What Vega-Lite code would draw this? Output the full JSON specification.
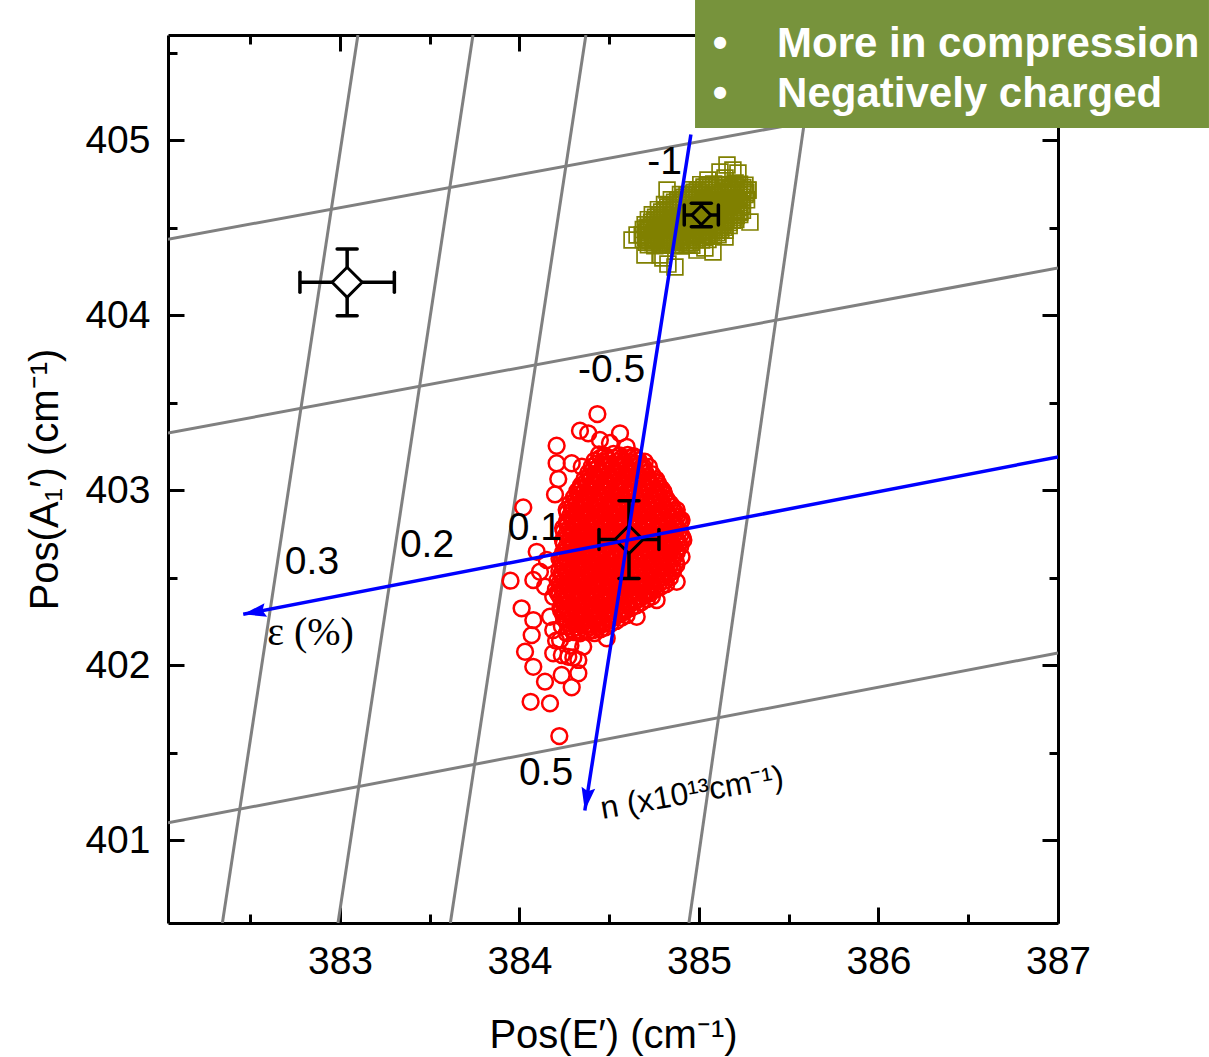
{
"$schema":"https://vega.github.io/schema/vega-lite/v6.json",
"width":890,"height":888,
"autosize":{"type":"none"},
"padding":{"left":168,"top":35,"right":151,"bottom":134},
"background":"white",
"config":{"view":{"stroke":null},"axis":{"grid":false,"tickColor":"black","tickWidth":3,"domainColor":"black","domainWidth":3,"labelColor":"black","titleColor":"black","labelFont":"Liberation Sans","titleFont":"Liberation Sans","labelFontSize":39,"titleFontSize":40,"titleFontWeight":"normal","labelFlush":false,"labelOverlap":false}},
"datasets":{
"grid":[{"g":"s1","x":383.100,"y":405.6},{"g":"s1","x":382.345,"y":400.526},{"g":"s2","x":383.741,"y":405.6},{"g":"s2","x":382.989,"y":400.526},{"g":"s3","x":384.370,"y":405.6},{"g":"s3","x":383.615,"y":400.526},{"g":"s4","x":385.657,"y":405.6},{"g":"s4","x":384.944,"y":400.526},{"g":"n1","x":382.042,"y":404.433},{"g":"n1","x":387,"y":405.367},{"g":"n2","x":382.042,"y":403.326},{"g":"n2","x":387,"y":404.269},{"g":"n3","x":382.042,"y":401.098},{"g":"n3","x":387,"y":402.069}],
"arrows":[{"a":"eps","x":387.011,"y":403.191,"x2":382.461,"y2":402.290},{"a":"n","x":384.955,"y":405.032,"x2":384.364,"y2":401.169}],
"labels":[{"t":"-1","x":384.808,"y":404.874},{"t":"-0.5","x":384.513,"y":403.683},{"t":"0.1","x":384.085,"y":402.783},{"t":"0.2","x":383.485,"y":402.686},{"t":"0.3","x":382.844,"y":402.591},{"t":"0.5","x":384.148,"y":401.383}],
"means":[{"g":"ref","x":383.04,"y":404.187,"xlo":382.777,"xhi":383.303,"ylo":403.996,"yhi":404.377},{"g":"red","x":384.61,"y":402.717,"xlo":384.443,"xhi":384.777,"ylo":402.495,"yhi":402.939},{"g":"olive","x":385.013,"y":404.571,"xlo":384.918,"xhi":385.108,"ylo":404.505,"yhi":404.638}],
"red":[
{"x":384.443,"y":403.203},{"x":384.477,"y":403.196},{"x":384.524,"y":403.206},{"x":384.559,"y":403.198},{"x":384.603,"y":403.2},{"x":384.636,"y":403.194},
{"x":384.418,"y":403.168},{"x":384.463,"y":403.161},{"x":384.497,"y":403.171},{"x":384.541,"y":403.163},{"x":384.582,"y":403.165},{"x":384.617,"y":403.159},{"x":384.664,"y":403.169},{"x":384.698,"y":403.162},
{"x":384.402,"y":403.133},{"x":384.437,"y":403.126},{"x":384.484,"y":403.136},{"x":384.519,"y":403.128},{"x":384.561,"y":403.13},{"x":384.598,"y":403.124},{"x":384.643,"y":403.134},{"x":384.678,"y":403.127},{"x":384.722,"y":403.132},
{"x":384.383,"y":403.098},{"x":384.418,"y":403.091},{"x":384.462,"y":403.101},{"x":384.497,"y":403.093},{"x":384.543,"y":403.095},{"x":384.577,"y":403.089},{"x":384.624,"y":403.099},{"x":384.658,"y":403.092},{"x":384.703,"y":403.097},{"x":384.738,"y":403.09},
{"x":384.362,"y":403.063},{"x":384.397,"y":403.056},{"x":384.443,"y":403.066},{"x":384.478,"y":403.058},{"x":384.522,"y":403.06},{"x":384.557,"y":403.054},{"x":384.604,"y":403.064},{"x":384.638,"y":403.057},{"x":384.683,"y":403.062},{"x":384.717,"y":403.055},{"x":384.762,"y":403.061},
{"x":384.343,"y":403.028},{"x":384.377,"y":403.021},{"x":384.423,"y":403.031},{"x":384.458,"y":403.023},{"x":384.502,"y":403.025},{"x":384.537,"y":403.019},{"x":384.584,"y":403.029},{"x":384.618,"y":403.022},{"x":384.663,"y":403.027},{"x":384.697,"y":403.02},{"x":384.742,"y":403.026},{"x":384.778,"y":403.022},
{"x":384.322,"y":402.993},{"x":384.357,"y":402.986},{"x":384.403,"y":402.996},{"x":384.438,"y":402.988},{"x":384.482,"y":402.99},{"x":384.517,"y":402.984},{"x":384.564,"y":402.994},{"x":384.598,"y":402.987},{"x":384.643,"y":402.992},{"x":384.677,"y":402.985},{"x":384.722,"y":402.991},{"x":384.758,"y":402.987},{"x":384.801,"y":402.993},
{"x":384.303,"y":402.958},{"x":384.337,"y":402.951},{"x":384.383,"y":402.961},{"x":384.418,"y":402.953},{"x":384.462,"y":402.955},{"x":384.497,"y":402.949},{"x":384.544,"y":402.959},{"x":384.578,"y":402.952},{"x":384.623,"y":402.957},{"x":384.657,"y":402.95},{"x":384.702,"y":402.956},{"x":384.738,"y":402.952},{"x":384.781,"y":402.958},{"x":384.818,"y":402.951},
{"x":384.282,"y":402.923},{"x":384.317,"y":402.916},{"x":384.363,"y":402.926},{"x":384.398,"y":402.918},{"x":384.442,"y":402.92},{"x":384.477,"y":402.914},{"x":384.524,"y":402.924},{"x":384.558,"y":402.917},{"x":384.603,"y":402.922},{"x":384.637,"y":402.915},{"x":384.682,"y":402.921},{"x":384.718,"y":402.917},{"x":384.761,"y":402.923},{"x":384.798,"y":402.916},{"x":384.841,"y":402.921},
{"x":384.263,"y":402.888},{"x":384.297,"y":402.881},{"x":384.343,"y":402.891},{"x":384.378,"y":402.883},{"x":384.422,"y":402.885},{"x":384.457,"y":402.879},{"x":384.504,"y":402.889},{"x":384.538,"y":402.882},{"x":384.583,"y":402.887},{"x":384.617,"y":402.88},{"x":384.662,"y":402.886},{"x":384.698,"y":402.882},{"x":384.741,"y":402.888},{"x":384.778,"y":402.881},{"x":384.821,"y":402.886},{"x":384.858,"y":402.883},
{"x":384.282,"y":402.853},{"x":384.317,"y":402.846},{"x":384.363,"y":402.856},{"x":384.398,"y":402.848},{"x":384.442,"y":402.85},{"x":384.477,"y":402.844},{"x":384.524,"y":402.854},{"x":384.558,"y":402.847},{"x":384.603,"y":402.852},{"x":384.637,"y":402.845},{"x":384.682,"y":402.851},{"x":384.718,"y":402.847},{"x":384.761,"y":402.853},{"x":384.798,"y":402.846},{"x":384.841,"y":402.851},{"x":384.878,"y":402.848},
{"x":384.263,"y":402.818},{"x":384.297,"y":402.811},{"x":384.343,"y":402.821},{"x":384.378,"y":402.813},{"x":384.422,"y":402.815},{"x":384.457,"y":402.809},{"x":384.504,"y":402.819},{"x":384.538,"y":402.812},{"x":384.583,"y":402.817},{"x":384.617,"y":402.81},{"x":384.662,"y":402.816},{"x":384.698,"y":402.812},{"x":384.741,"y":402.818},{"x":384.778,"y":402.811},{"x":384.821,"y":402.816},{"x":384.858,"y":402.813},{"x":384.897,"y":402.817},
{"x":384.243,"y":402.783},{"x":384.277,"y":402.776},{"x":384.323,"y":402.786},{"x":384.358,"y":402.778},{"x":384.402,"y":402.78},{"x":384.437,"y":402.774},{"x":384.484,"y":402.784},{"x":384.518,"y":402.777},{"x":384.563,"y":402.782},{"x":384.597,"y":402.775},{"x":384.642,"y":402.781},{"x":384.678,"y":402.777},{"x":384.721,"y":402.783},{"x":384.758,"y":402.776},{"x":384.801,"y":402.781},{"x":384.838,"y":402.778},{"x":384.878,"y":402.782},
{"x":384.262,"y":402.748},{"x":384.298,"y":402.741},{"x":384.342,"y":402.751},{"x":384.379,"y":402.743},{"x":384.421,"y":402.745},{"x":384.458,"y":402.739},{"x":384.503,"y":402.749},{"x":384.539,"y":402.742},{"x":384.582,"y":402.747},{"x":384.618,"y":402.74},{"x":384.661,"y":402.746},{"x":384.699,"y":402.742},{"x":384.742,"y":402.748},{"x":384.777,"y":402.741},{"x":384.822,"y":402.746},{"x":384.857,"y":402.743},{"x":384.898,"y":402.747},
{"x":384.242,"y":402.713},{"x":384.278,"y":402.706},{"x":384.322,"y":402.716},{"x":384.359,"y":402.708},{"x":384.401,"y":402.71},{"x":384.438,"y":402.704},{"x":384.483,"y":402.714},{"x":384.519,"y":402.707},{"x":384.562,"y":402.712},{"x":384.598,"y":402.705},{"x":384.641,"y":402.711},{"x":384.679,"y":402.707},{"x":384.722,"y":402.713},{"x":384.757,"y":402.706},{"x":384.802,"y":402.711},{"x":384.837,"y":402.708},{"x":384.879,"y":402.712},
{"x":384.263,"y":402.678},{"x":384.297,"y":402.671},{"x":384.343,"y":402.681},{"x":384.378,"y":402.673},{"x":384.422,"y":402.675},{"x":384.457,"y":402.669},{"x":384.504,"y":402.679},{"x":384.538,"y":402.672},{"x":384.583,"y":402.677},{"x":384.617,"y":402.67},{"x":384.662,"y":402.676},{"x":384.698,"y":402.672},{"x":384.741,"y":402.678},{"x":384.778,"y":402.671},{"x":384.821,"y":402.676},{"x":384.858,"y":402.673},{"x":384.896,"y":402.677},
{"x":384.243,"y":402.643},{"x":384.277,"y":402.636},{"x":384.323,"y":402.646},{"x":384.358,"y":402.638},{"x":384.402,"y":402.64},{"x":384.437,"y":402.634},{"x":384.484,"y":402.644},{"x":384.518,"y":402.637},{"x":384.563,"y":402.642},{"x":384.597,"y":402.635},{"x":384.642,"y":402.641},{"x":384.678,"y":402.637},{"x":384.721,"y":402.643},{"x":384.758,"y":402.636},{"x":384.801,"y":402.641},{"x":384.838,"y":402.638},{"x":384.876,"y":402.642},
{"x":384.223,"y":402.608},{"x":384.262,"y":402.601},{"x":384.298,"y":402.611},{"x":384.342,"y":402.603},{"x":384.379,"y":402.605},{"x":384.421,"y":402.599},{"x":384.458,"y":402.609},{"x":384.503,"y":402.602},{"x":384.539,"y":402.607},{"x":384.582,"y":402.6},{"x":384.618,"y":402.606},{"x":384.661,"y":402.602},{"x":384.699,"y":402.608},{"x":384.742,"y":402.601},{"x":384.777,"y":402.606},{"x":384.822,"y":402.603},{"x":384.857,"y":402.607},
{"x":384.242,"y":402.573},{"x":384.278,"y":402.566},{"x":384.322,"y":402.576},{"x":384.359,"y":402.568},{"x":384.401,"y":402.57},{"x":384.438,"y":402.564},{"x":384.483,"y":402.574},{"x":384.519,"y":402.567},{"x":384.562,"y":402.572},{"x":384.598,"y":402.565},{"x":384.641,"y":402.571},{"x":384.679,"y":402.567},{"x":384.722,"y":402.573},{"x":384.757,"y":402.566},{"x":384.802,"y":402.571},{"x":384.837,"y":402.568},{"x":384.874,"y":402.572},
{"x":384.222,"y":402.538},{"x":384.263,"y":402.531},{"x":384.297,"y":402.541},{"x":384.343,"y":402.533},{"x":384.378,"y":402.535},{"x":384.422,"y":402.529},{"x":384.457,"y":402.539},{"x":384.504,"y":402.532},{"x":384.538,"y":402.537},{"x":384.583,"y":402.53},{"x":384.617,"y":402.536},{"x":384.662,"y":402.532},{"x":384.698,"y":402.538},{"x":384.741,"y":402.531},{"x":384.778,"y":402.536},{"x":384.821,"y":402.533},{"x":384.856,"y":402.537},
{"x":384.238,"y":402.503},{"x":384.277,"y":402.496},{"x":384.323,"y":402.506},{"x":384.358,"y":402.498},{"x":384.402,"y":402.5},{"x":384.437,"y":402.494},{"x":384.484,"y":402.504},{"x":384.518,"y":402.497},{"x":384.563,"y":402.502},{"x":384.597,"y":402.495},{"x":384.642,"y":402.501},{"x":384.678,"y":402.497},{"x":384.721,"y":402.503},{"x":384.758,"y":402.496},{"x":384.801,"y":402.501},{"x":384.838,"y":402.498},
{"x":384.223,"y":402.468},{"x":384.262,"y":402.461},{"x":384.298,"y":402.471},{"x":384.342,"y":402.463},{"x":384.379,"y":402.465},{"x":384.421,"y":402.459},{"x":384.458,"y":402.469},{"x":384.503,"y":402.462},{"x":384.539,"y":402.467},{"x":384.582,"y":402.46},{"x":384.618,"y":402.466},{"x":384.661,"y":402.462},{"x":384.699,"y":402.468},{"x":384.742,"y":402.461},{"x":384.777,"y":402.466},{"x":384.818,"y":402.463},
{"x":384.203,"y":402.433},{"x":384.242,"y":402.426},{"x":384.278,"y":402.436},{"x":384.322,"y":402.428},{"x":384.359,"y":402.43},{"x":384.401,"y":402.424},{"x":384.438,"y":402.434},{"x":384.483,"y":402.427},{"x":384.519,"y":402.432},{"x":384.562,"y":402.425},{"x":384.598,"y":402.431},{"x":384.641,"y":402.427},{"x":384.679,"y":402.433},{"x":384.722,"y":402.426},{"x":384.758,"y":402.431},
{"x":384.222,"y":402.398},{"x":384.263,"y":402.391},{"x":384.297,"y":402.401},{"x":384.343,"y":402.393},{"x":384.378,"y":402.395},{"x":384.422,"y":402.389},{"x":384.457,"y":402.399},{"x":384.504,"y":402.392},{"x":384.538,"y":402.397},{"x":384.583,"y":402.39},{"x":384.617,"y":402.396},{"x":384.662,"y":402.392},{"x":384.698,"y":402.398},{"x":384.738,"y":402.391},
{"x":384.243,"y":402.363},{"x":384.277,"y":402.356},{"x":384.323,"y":402.366},{"x":384.358,"y":402.358},{"x":384.402,"y":402.36},{"x":384.437,"y":402.354},{"x":384.484,"y":402.364},{"x":384.518,"y":402.357},{"x":384.563,"y":402.362},{"x":384.597,"y":402.355},{"x":384.642,"y":402.361},{"x":384.678,"y":402.357},
{"x":384.228,"y":402.328},{"x":384.262,"y":402.321},{"x":384.298,"y":402.331},{"x":384.342,"y":402.323},{"x":384.379,"y":402.325},{"x":384.421,"y":402.319},{"x":384.458,"y":402.329},{"x":384.503,"y":402.322},{"x":384.539,"y":402.327},{"x":384.582,"y":402.32},{"x":384.621,"y":402.326},
{"x":384.243,"y":402.293},{"x":384.277,"y":402.286},{"x":384.323,"y":402.296},{"x":384.358,"y":402.288},{"x":384.402,"y":402.29},{"x":384.437,"y":402.284},{"x":384.484,"y":402.294},{"x":384.518,"y":402.287},{"x":384.563,"y":402.292},{"x":384.597,"y":402.285},
{"x":384.262,"y":402.258},{"x":384.298,"y":402.251},{"x":384.342,"y":402.261},{"x":384.379,"y":402.253},{"x":384.421,"y":402.255},{"x":384.458,"y":402.249},{"x":384.503,"y":402.259},{"x":384.539,"y":402.252},
{"x":384.282,"y":402.223},{"x":384.317,"y":402.216},{"x":384.363,"y":402.226},{"x":384.398,"y":402.218},{"x":384.442,"y":402.22},{"x":384.477,"y":402.214},
{"x":384.303,"y":402.188},{"x":384.337,"y":402.181},{"x":384.383,"y":402.191},{"x":384.418,"y":402.183},
{"x":384.452,"y":403.185},{"x":384.488,"y":403.18},{"x":384.531,"y":403.183},{"x":384.568,"y":403.179},{"x":384.612,"y":403.184},{"x":384.649,"y":403.182},
{"x":384.429,"y":403.15},{"x":384.472,"y":403.145},{"x":384.508,"y":403.148},{"x":384.551,"y":403.144},{"x":384.588,"y":403.149},{"x":384.632,"y":403.147},{"x":384.669,"y":403.146},
{"x":384.409,"y":403.115},{"x":384.452,"y":403.11},{"x":384.488,"y":403.113},{"x":384.531,"y":403.109},{"x":384.568,"y":403.114},{"x":384.612,"y":403.112},{"x":384.649,"y":403.111},{"x":384.691,"y":403.115},
{"x":384.391,"y":403.08},{"x":384.429,"y":403.075},{"x":384.472,"y":403.078},{"x":384.508,"y":403.074},{"x":384.551,"y":403.079},{"x":384.588,"y":403.077},{"x":384.632,"y":403.076},{"x":384.669,"y":403.08},{"x":384.711,"y":403.075},
{"x":384.371,"y":403.045},{"x":384.409,"y":403.04},{"x":384.452,"y":403.043},{"x":384.488,"y":403.039},{"x":384.531,"y":403.044},{"x":384.568,"y":403.042},{"x":384.612,"y":403.041},{"x":384.649,"y":403.045},{"x":384.691,"y":403.04},{"x":384.728,"y":403.044},{"x":384.771,"y":403.039},
{"x":384.348,"y":403.01},{"x":384.391,"y":403.005},{"x":384.429,"y":403.008},{"x":384.472,"y":403.004},{"x":384.508,"y":403.009},{"x":384.551,"y":403.007},{"x":384.588,"y":403.006},{"x":384.632,"y":403.01},{"x":384.669,"y":403.005},{"x":384.711,"y":403.009},{"x":384.748,"y":403.004},{"x":384.791,"y":403.008},
{"x":384.328,"y":402.975},{"x":384.371,"y":402.97},{"x":384.409,"y":402.973},{"x":384.452,"y":402.969},{"x":384.488,"y":402.974},{"x":384.531,"y":402.972},{"x":384.568,"y":402.971},{"x":384.612,"y":402.975},{"x":384.649,"y":402.97},{"x":384.691,"y":402.974},{"x":384.728,"y":402.969},{"x":384.771,"y":402.973},{"x":384.808,"y":402.972},
{"x":384.313,"y":402.94},{"x":384.348,"y":402.935},{"x":384.391,"y":402.938},{"x":384.429,"y":402.934},{"x":384.472,"y":402.939},{"x":384.508,"y":402.937},{"x":384.551,"y":402.936},{"x":384.588,"y":402.94},{"x":384.632,"y":402.935},{"x":384.669,"y":402.939},{"x":384.711,"y":402.934},{"x":384.748,"y":402.938},{"x":384.791,"y":402.937},{"x":384.828,"y":402.935},
{"x":384.293,"y":402.905},{"x":384.328,"y":402.9},{"x":384.371,"y":402.903},{"x":384.409,"y":402.899},{"x":384.452,"y":402.904},{"x":384.488,"y":402.902},{"x":384.531,"y":402.901},{"x":384.568,"y":402.905},{"x":384.612,"y":402.9},{"x":384.649,"y":402.904},{"x":384.691,"y":402.899},{"x":384.728,"y":402.903},{"x":384.771,"y":402.902},{"x":384.808,"y":402.9},{"x":384.852,"y":402.905},
{"x":384.267,"y":402.87},{"x":384.313,"y":402.865},{"x":384.348,"y":402.868},{"x":384.391,"y":402.864},{"x":384.429,"y":402.869},{"x":384.472,"y":402.867},{"x":384.508,"y":402.866},{"x":384.551,"y":402.87},{"x":384.588,"y":402.865},{"x":384.632,"y":402.869},{"x":384.669,"y":402.864},{"x":384.711,"y":402.868},{"x":384.748,"y":402.867},{"x":384.791,"y":402.865},{"x":384.828,"y":402.87},{"x":384.872,"y":402.866},
{"x":384.293,"y":402.835},{"x":384.328,"y":402.83},{"x":384.371,"y":402.833},{"x":384.409,"y":402.829},{"x":384.452,"y":402.834},{"x":384.488,"y":402.832},{"x":384.531,"y":402.831},{"x":384.568,"y":402.835},{"x":384.612,"y":402.83},{"x":384.649,"y":402.834},{"x":384.691,"y":402.829},{"x":384.728,"y":402.833},{"x":384.771,"y":402.832},{"x":384.808,"y":402.83},{"x":384.852,"y":402.835},{"x":384.888,"y":402.831},
{"x":384.267,"y":402.8},{"x":384.313,"y":402.795},{"x":384.348,"y":402.798},{"x":384.391,"y":402.794},{"x":384.429,"y":402.799},{"x":384.472,"y":402.797},{"x":384.508,"y":402.796},{"x":384.551,"y":402.8},{"x":384.588,"y":402.795},{"x":384.632,"y":402.799},{"x":384.669,"y":402.794},{"x":384.711,"y":402.798},{"x":384.748,"y":402.797},{"x":384.791,"y":402.795},{"x":384.828,"y":402.8},{"x":384.872,"y":402.796},
{"x":384.247,"y":402.765},{"x":384.293,"y":402.76},{"x":384.328,"y":402.763},{"x":384.371,"y":402.759},{"x":384.409,"y":402.764},{"x":384.452,"y":402.762},{"x":384.488,"y":402.761},{"x":384.531,"y":402.765},{"x":384.568,"y":402.76},{"x":384.612,"y":402.764},{"x":384.649,"y":402.759},{"x":384.691,"y":402.763},{"x":384.728,"y":402.762},{"x":384.771,"y":402.76},{"x":384.808,"y":402.765},{"x":384.852,"y":402.761},{"x":384.888,"y":402.764},
{"x":384.267,"y":402.73},{"x":384.313,"y":402.725},{"x":384.348,"y":402.728},{"x":384.391,"y":402.724},{"x":384.429,"y":402.729},{"x":384.472,"y":402.727},{"x":384.508,"y":402.726},{"x":384.551,"y":402.73},{"x":384.588,"y":402.725},{"x":384.632,"y":402.729},{"x":384.669,"y":402.724},{"x":384.711,"y":402.728},{"x":384.748,"y":402.727},{"x":384.791,"y":402.725},{"x":384.828,"y":402.73},{"x":384.872,"y":402.726},{"x":384.908,"y":402.729},
{"x":384.247,"y":402.695},{"x":384.293,"y":402.69},{"x":384.328,"y":402.693},{"x":384.371,"y":402.689},{"x":384.409,"y":402.694},{"x":384.452,"y":402.692},{"x":384.488,"y":402.691},{"x":384.531,"y":402.695},{"x":384.568,"y":402.69},{"x":384.612,"y":402.694},{"x":384.649,"y":402.689},{"x":384.691,"y":402.693},{"x":384.728,"y":402.692},{"x":384.771,"y":402.69},{"x":384.808,"y":402.695},{"x":384.852,"y":402.691},{"x":384.888,"y":402.694},
{"x":384.267,"y":402.66},{"x":384.313,"y":402.655},{"x":384.348,"y":402.658},{"x":384.391,"y":402.654},{"x":384.429,"y":402.659},{"x":384.472,"y":402.657},{"x":384.508,"y":402.656},{"x":384.551,"y":402.66},{"x":384.588,"y":402.655},{"x":384.632,"y":402.659},{"x":384.669,"y":402.654},{"x":384.711,"y":402.658},{"x":384.748,"y":402.657},{"x":384.791,"y":402.655},{"x":384.828,"y":402.66},{"x":384.872,"y":402.656},
{"x":384.247,"y":402.625},{"x":384.293,"y":402.62},{"x":384.328,"y":402.623},{"x":384.371,"y":402.619},{"x":384.409,"y":402.624},{"x":384.452,"y":402.622},{"x":384.488,"y":402.621},{"x":384.531,"y":402.625},{"x":384.568,"y":402.62},{"x":384.612,"y":402.624},{"x":384.649,"y":402.619},{"x":384.691,"y":402.623},{"x":384.728,"y":402.622},{"x":384.771,"y":402.62},{"x":384.808,"y":402.625},{"x":384.852,"y":402.621},
{"x":384.232,"y":402.59},{"x":384.267,"y":402.585},{"x":384.313,"y":402.588},{"x":384.348,"y":402.584},{"x":384.391,"y":402.589},{"x":384.429,"y":402.587},{"x":384.472,"y":402.586},{"x":384.508,"y":402.59},{"x":384.551,"y":402.585},{"x":384.588,"y":402.589},{"x":384.632,"y":402.584},{"x":384.669,"y":402.588},{"x":384.711,"y":402.587},{"x":384.748,"y":402.585},{"x":384.791,"y":402.59},{"x":384.828,"y":402.586},{"x":384.872,"y":402.589},
{"x":384.247,"y":402.555},{"x":384.293,"y":402.55},{"x":384.328,"y":402.553},{"x":384.371,"y":402.549},{"x":384.409,"y":402.554},{"x":384.452,"y":402.552},{"x":384.488,"y":402.551},{"x":384.531,"y":402.555},{"x":384.568,"y":402.55},{"x":384.612,"y":402.554},{"x":384.649,"y":402.549},{"x":384.691,"y":402.553},{"x":384.728,"y":402.552},{"x":384.771,"y":402.55},{"x":384.808,"y":402.555},{"x":384.852,"y":402.551},
{"x":384.232,"y":402.52},{"x":384.267,"y":402.515},{"x":384.313,"y":402.518},{"x":384.348,"y":402.514},{"x":384.391,"y":402.519},{"x":384.429,"y":402.517},{"x":384.472,"y":402.516},{"x":384.508,"y":402.52},{"x":384.551,"y":402.515},{"x":384.588,"y":402.519},{"x":384.632,"y":402.514},{"x":384.669,"y":402.518},{"x":384.711,"y":402.517},{"x":384.748,"y":402.515},{"x":384.791,"y":402.52},{"x":384.828,"y":402.516},
{"x":384.212,"y":402.485},{"x":384.247,"y":402.48},{"x":384.293,"y":402.483},{"x":384.328,"y":402.479},{"x":384.371,"y":402.484},{"x":384.409,"y":402.482},{"x":384.452,"y":402.481},{"x":384.488,"y":402.485},{"x":384.531,"y":402.48},{"x":384.568,"y":402.484},{"x":384.612,"y":402.479},{"x":384.649,"y":402.483},{"x":384.691,"y":402.482},{"x":384.728,"y":402.48},{"x":384.771,"y":402.485},{"x":384.808,"y":402.481},
{"x":384.232,"y":402.45},{"x":384.267,"y":402.445},{"x":384.313,"y":402.448},{"x":384.348,"y":402.444},{"x":384.391,"y":402.449},{"x":384.429,"y":402.447},{"x":384.472,"y":402.446},{"x":384.508,"y":402.45},{"x":384.551,"y":402.445},{"x":384.588,"y":402.449},{"x":384.632,"y":402.444},{"x":384.669,"y":402.448},{"x":384.711,"y":402.447},{"x":384.748,"y":402.445},{"x":384.791,"y":402.45},
{"x":384.212,"y":402.415},{"x":384.247,"y":402.41},{"x":384.293,"y":402.413},{"x":384.328,"y":402.409},{"x":384.371,"y":402.414},{"x":384.409,"y":402.412},{"x":384.452,"y":402.411},{"x":384.488,"y":402.415},{"x":384.531,"y":402.41},{"x":384.568,"y":402.414},{"x":384.612,"y":402.409},{"x":384.649,"y":402.413},{"x":384.691,"y":402.412},{"x":384.728,"y":402.41},
{"x":384.232,"y":402.38},{"x":384.267,"y":402.375},{"x":384.313,"y":402.378},{"x":384.348,"y":402.374},{"x":384.391,"y":402.379},{"x":384.429,"y":402.377},{"x":384.472,"y":402.376},{"x":384.508,"y":402.38},{"x":384.551,"y":402.375},{"x":384.588,"y":402.379},{"x":384.632,"y":402.374},{"x":384.669,"y":402.378},{"x":384.711,"y":402.377},
{"x":384.247,"y":402.345},{"x":384.293,"y":402.34},{"x":384.328,"y":402.343},{"x":384.371,"y":402.339},{"x":384.409,"y":402.344},{"x":384.452,"y":402.342},{"x":384.488,"y":402.341},{"x":384.531,"y":402.345},{"x":384.568,"y":402.34},{"x":384.612,"y":402.344},{"x":384.649,"y":402.339},
{"x":384.232,"y":402.31},{"x":384.267,"y":402.305},{"x":384.313,"y":402.308},{"x":384.348,"y":402.304},{"x":384.391,"y":402.309},{"x":384.429,"y":402.307},{"x":384.472,"y":402.306},{"x":384.508,"y":402.31},{"x":384.551,"y":402.305},{"x":384.588,"y":402.309},
{"x":384.247,"y":402.275},{"x":384.293,"y":402.27},{"x":384.328,"y":402.273},{"x":384.371,"y":402.269},{"x":384.409,"y":402.274},{"x":384.452,"y":402.272},{"x":384.488,"y":402.271},{"x":384.531,"y":402.275},{"x":384.568,"y":402.27},
{"x":384.267,"y":402.24},{"x":384.313,"y":402.235},{"x":384.348,"y":402.238},{"x":384.391,"y":402.234},{"x":384.429,"y":402.239},{"x":384.472,"y":402.237},{"x":384.508,"y":402.236},
{"x":384.293,"y":402.205},{"x":384.328,"y":402.2},{"x":384.371,"y":402.203},{"x":384.409,"y":402.199},{"x":384.452,"y":402.204},
{"x":384.434,"y":403.434},{"x":384.337,"y":403.339},{"x":384.383,"y":403.324},{"x":384.56,"y":403.324},{"x":384.207,"y":403.253},{"x":384.448,"y":403.286},{"x":384.504,"y":403.269},{"x":384.597,"y":403.247},{"x":384.207,"y":403.153},{"x":384.291,"y":403.153},{"x":384.347,"y":403.133},{"x":384.216,"y":403.063},{"x":384.198,"y":402.975},{"x":384.337,"y":403.01},{"x":384.021,"y":402.901},{"x":384.096,"y":402.647},{"x":384.152,"y":402.6},{"x":383.95,"y":402.482},{"x":384.077,"y":402.486},{"x":384.114,"y":402.533},{"x":384.012,"y":402.324},{"x":384.077,"y":402.257},{"x":384.068,"y":402.171},{"x":384.031,"y":402.076},{"x":384.077,"y":401.99},{"x":384.142,"y":401.905},{"x":384.235,"y":401.943},{"x":384.328,"y":401.953},{"x":384.291,"y":401.873},{"x":384.062,"y":401.79},{"x":384.17,"y":401.781},{"x":384.222,"y":401.594},{"x":384.188,"y":402.2},{"x":384.263,"y":402.181},{"x":384.188,"y":402.067},{"x":384.272,"y":402.047},{"x":384.328,"y":402.029},{"x":384.876,"y":402.886},{"x":384.903,"y":402.829},{"x":384.913,"y":402.714},{"x":384.903,"y":402.619},{"x":384.876,"y":402.476},{"x":384.764,"y":402.371},{"x":384.653,"y":402.276},{"x":384.709,"y":402.41},{"x":384.486,"y":402.153},{"x":384.393,"y":402.219},{"x":384.43,"y":402.276},{"x":384.764,"y":403.047},{"x":384.69,"y":403.133},{"x":384.634,"y":403.19},{"x":384.204,"y":402.139},{"x":384.236,"y":402.057},{"x":384.3,"y":402.043},{"x":384.236,"y":402.221},{"x":384.284,"y":402.111},{"x":384.17,"y":402.276},{"x":384.226,"y":402.143},{"x":384.355,"y":402.105},{"x":384.188,"y":402.39},{"x":384.142,"y":402.448}
],
"olive":[
{"x":385.01,"y":404.745},{"x":385.046,"y":404.739},{"x":385.082,"y":404.748},{"x":385.118,"y":404.741},{"x":385.154,"y":404.744},{"x":385.19,"y":404.738},{"x":385.226,"y":404.747},{"x":385.256,"y":404.742},
{"x":384.955,"y":404.716},{"x":384.991,"y":404.71},{"x":385.027,"y":404.719},{"x":385.063,"y":404.712},{"x":385.099,"y":404.715},{"x":385.135,"y":404.709},{"x":385.171,"y":404.718},{"x":385.207,"y":404.711},{"x":385.243,"y":404.716},{"x":385.272,"y":404.713},
{"x":384.897,"y":404.688},{"x":384.933,"y":404.682},{"x":384.969,"y":404.691},{"x":385.005,"y":404.684},{"x":385.041,"y":404.687},{"x":385.077,"y":404.681},{"x":385.113,"y":404.69},{"x":385.149,"y":404.683},{"x":385.185,"y":404.688},{"x":385.221,"y":404.685},{"x":385.257,"y":404.689},
{"x":384.846,"y":404.659},{"x":384.882,"y":404.653},{"x":384.918,"y":404.662},{"x":384.954,"y":404.655},{"x":384.99,"y":404.658},{"x":385.026,"y":404.652},{"x":385.062,"y":404.661},{"x":385.098,"y":404.654},{"x":385.134,"y":404.659},{"x":385.17,"y":404.656},{"x":385.206,"y":404.66},{"x":385.242,"y":404.654},{"x":385.265,"y":404.658},
{"x":384.808,"y":404.631},{"x":384.844,"y":404.625},{"x":384.88,"y":404.634},{"x":384.916,"y":404.627},{"x":384.952,"y":404.63},{"x":384.988,"y":404.624},{"x":385.024,"y":404.633},{"x":385.06,"y":404.626},{"x":385.096,"y":404.631},{"x":385.132,"y":404.628},{"x":385.168,"y":404.632},{"x":385.204,"y":404.626},{"x":385.24,"y":404.63},
{"x":384.774,"y":404.602},{"x":384.81,"y":404.596},{"x":384.846,"y":404.605},{"x":384.882,"y":404.598},{"x":384.918,"y":404.601},{"x":384.954,"y":404.595},{"x":384.99,"y":404.604},{"x":385.026,"y":404.597},{"x":385.062,"y":404.602},{"x":385.098,"y":404.599},{"x":385.134,"y":404.603},{"x":385.17,"y":404.597},{"x":385.206,"y":404.601},{"x":385.242,"y":404.598},
{"x":384.74,"y":404.573},{"x":384.776,"y":404.567},{"x":384.812,"y":404.576},{"x":384.848,"y":404.569},{"x":384.884,"y":404.572},{"x":384.92,"y":404.566},{"x":384.956,"y":404.575},{"x":384.992,"y":404.568},{"x":385.028,"y":404.573},{"x":385.064,"y":404.57},{"x":385.1,"y":404.574},{"x":385.136,"y":404.568},{"x":385.172,"y":404.572},{"x":385.208,"y":404.569},{"x":385.227,"y":404.574},
{"x":384.718,"y":404.545},{"x":384.754,"y":404.539},{"x":384.79,"y":404.548},{"x":384.826,"y":404.541},{"x":384.862,"y":404.544},{"x":384.898,"y":404.538},{"x":384.934,"y":404.547},{"x":384.97,"y":404.54},{"x":385.006,"y":404.545},{"x":385.042,"y":404.542},{"x":385.078,"y":404.546},{"x":385.114,"y":404.54},{"x":385.15,"y":404.544},{"x":385.186,"y":404.541},{"x":385.205,"y":404.546},
{"x":384.7,"y":404.516},{"x":384.736,"y":404.51},{"x":384.772,"y":404.519},{"x":384.808,"y":404.512},{"x":384.844,"y":404.515},{"x":384.88,"y":404.509},{"x":384.916,"y":404.518},{"x":384.952,"y":404.511},{"x":384.988,"y":404.516},{"x":385.024,"y":404.513},{"x":385.06,"y":404.517},{"x":385.096,"y":404.511},{"x":385.132,"y":404.515},{"x":385.168,"y":404.512},
{"x":384.69,"y":404.488},{"x":384.726,"y":404.482},{"x":384.762,"y":404.491},{"x":384.798,"y":404.484},{"x":384.834,"y":404.487},{"x":384.87,"y":404.481},{"x":384.906,"y":404.49},{"x":384.942,"y":404.483},{"x":384.978,"y":404.488},{"x":385.014,"y":404.485},{"x":385.05,"y":404.489},{"x":385.086,"y":404.483},{"x":385.122,"y":404.487},{"x":385.145,"y":404.484},
{"x":384.684,"y":404.459},{"x":384.72,"y":404.453},{"x":384.756,"y":404.462},{"x":384.792,"y":404.455},{"x":384.828,"y":404.458},{"x":384.864,"y":404.452},{"x":384.9,"y":404.461},{"x":384.936,"y":404.454},{"x":384.972,"y":404.459},{"x":385.008,"y":404.456},{"x":385.044,"y":404.46},{"x":385.08,"y":404.454},{"x":385.106,"y":404.458},
{"x":384.69,"y":404.431},{"x":384.726,"y":404.425},{"x":384.762,"y":404.434},{"x":384.798,"y":404.427},{"x":384.834,"y":404.43},{"x":384.87,"y":404.424},{"x":384.906,"y":404.433},{"x":384.942,"y":404.426},{"x":384.978,"y":404.431},{"x":385.014,"y":404.428},{"x":385.05,"y":404.432},
{"x":384.718,"y":404.402},{"x":384.754,"y":404.396},{"x":384.79,"y":404.405},{"x":384.826,"y":404.398},{"x":384.862,"y":404.401},{"x":384.898,"y":404.395},{"x":384.934,"y":404.404},{"x":384.96,"y":404.399},
{"x":385.028,"y":404.731},{"x":385.064,"y":404.728},{"x":385.1,"y":404.73},{"x":385.136,"y":404.727},{"x":385.172,"y":404.729},{"x":385.208,"y":404.731},{"x":385.244,"y":404.728},
{"x":384.973,"y":404.702},{"x":385.009,"y":404.699},{"x":385.045,"y":404.701},{"x":385.081,"y":404.698},{"x":385.117,"y":404.7},{"x":385.153,"y":404.702},{"x":385.189,"y":404.699},{"x":385.225,"y":404.701},{"x":385.261,"y":404.698},
{"x":384.915,"y":404.673},{"x":384.951,"y":404.67},{"x":384.987,"y":404.672},{"x":385.023,"y":404.669},{"x":385.059,"y":404.671},{"x":385.095,"y":404.673},{"x":385.131,"y":404.67},{"x":385.167,"y":404.672},{"x":385.203,"y":404.669},{"x":385.239,"y":404.673},
{"x":384.864,"y":404.645},{"x":384.9,"y":404.642},{"x":384.936,"y":404.644},{"x":384.972,"y":404.641},{"x":385.008,"y":404.643},{"x":385.044,"y":404.645},{"x":385.08,"y":404.642},{"x":385.116,"y":404.644},{"x":385.152,"y":404.641},{"x":385.188,"y":404.645},{"x":385.224,"y":404.643},
{"x":384.826,"y":404.616},{"x":384.862,"y":404.613},{"x":384.898,"y":404.615},{"x":384.934,"y":404.612},{"x":384.97,"y":404.614},{"x":385.006,"y":404.616},{"x":385.042,"y":404.613},{"x":385.078,"y":404.615},{"x":385.114,"y":404.612},{"x":385.15,"y":404.616},{"x":385.186,"y":404.614},{"x":385.222,"y":404.613},
{"x":384.792,"y":404.588},{"x":384.828,"y":404.585},{"x":384.864,"y":404.587},{"x":384.9,"y":404.584},{"x":384.936,"y":404.586},{"x":384.972,"y":404.588},{"x":385.008,"y":404.585},{"x":385.044,"y":404.587},{"x":385.08,"y":404.584},{"x":385.116,"y":404.588},{"x":385.152,"y":404.586},{"x":385.188,"y":404.585},{"x":385.224,"y":404.587},
{"x":384.758,"y":404.559},{"x":384.794,"y":404.556},{"x":384.83,"y":404.558},{"x":384.866,"y":404.555},{"x":384.902,"y":404.557},{"x":384.938,"y":404.559},{"x":384.974,"y":404.556},{"x":385.01,"y":404.558},{"x":385.046,"y":404.555},{"x":385.082,"y":404.559},{"x":385.118,"y":404.557},{"x":385.154,"y":404.556},{"x":385.19,"y":404.558},
{"x":384.736,"y":404.53},{"x":384.772,"y":404.527},{"x":384.808,"y":404.529},{"x":384.844,"y":404.526},{"x":384.88,"y":404.528},{"x":384.916,"y":404.53},{"x":384.952,"y":404.527},{"x":384.988,"y":404.529},{"x":385.024,"y":404.526},{"x":385.06,"y":404.53},{"x":385.096,"y":404.528},{"x":385.132,"y":404.527},{"x":385.168,"y":404.529},
{"x":384.718,"y":404.502},{"x":384.754,"y":404.499},{"x":384.79,"y":404.501},{"x":384.826,"y":404.498},{"x":384.862,"y":404.5},{"x":384.898,"y":404.502},{"x":384.934,"y":404.499},{"x":384.97,"y":404.501},{"x":385.006,"y":404.498},{"x":385.042,"y":404.502},{"x":385.078,"y":404.5},{"x":385.114,"y":404.499},{"x":385.14,"y":404.501},
{"x":384.708,"y":404.473},{"x":384.744,"y":404.47},{"x":384.78,"y":404.472},{"x":384.816,"y":404.469},{"x":384.852,"y":404.471},{"x":384.888,"y":404.473},{"x":384.924,"y":404.47},{"x":384.96,"y":404.472},{"x":384.996,"y":404.469},{"x":385.032,"y":404.473},{"x":385.068,"y":404.471},{"x":385.1,"y":404.47},
{"x":384.702,"y":404.445},{"x":384.738,"y":404.442},{"x":384.774,"y":404.444},{"x":384.81,"y":404.441},{"x":384.846,"y":404.443},{"x":384.882,"y":404.445},{"x":384.918,"y":404.442},{"x":384.954,"y":404.444},{"x":384.99,"y":404.441},{"x":385.026,"y":404.445},
{"x":384.708,"y":404.416},{"x":384.744,"y":404.413},{"x":384.78,"y":404.415},{"x":384.816,"y":404.412},{"x":384.852,"y":404.414},{"x":384.888,"y":404.416},{"x":384.924,"y":404.413},{"x":384.955,"y":404.415},
{"x":385.189,"y":404.829},{"x":385.156,"y":404.857},{"x":385.217,"y":404.811},{"x":385.273,"y":404.714},{"x":385.284,"y":404.531},{"x":385.228,"y":404.589},{"x":385.145,"y":404.446},{"x":384.799,"y":404.326},{"x":384.866,"y":404.274},{"x":384.989,"y":404.371},{"x":384.822,"y":404.714},{"x":384.655,"y":404.457},{"x":384.627,"y":404.429},{"x":384.71,"y":404.497},{"x":385.05,"y":404.771},{"x":384.783,"y":404.343},{"x":384.827,"y":404.291},{"x":384.699,"y":404.343},{"x":385.201,"y":404.754},{"x":385.245,"y":404.703},{"x":385.145,"y":404.783},{"x":385.117,"y":404.817},{"x":385.078,"y":404.36},{"x":385.033,"y":404.383}
]
},
"layer":[
{"data":{"name":"grid"},"mark":{"type":"line","color":"#808080","strokeWidth":3,"clip":true},
 "encoding":{
  "x":{"field":"x","type":"quantitative","scale":{"domain":[382.042,387],"nice":false,"zero":false},"axis":{"orient":"bottom","values":[383,384,385,386,387],"tickSize":-16,"labelPadding":35,"title":"Pos(E′) (cm⁻¹)","titlePadding":34}},
  "y":{"field":"y","type":"quantitative","scale":{"domain":[400.526,405.6],"nice":false,"zero":false},"axis":{"orient":"left","values":[401,402,403,404,405],"tickSize":-16,"labelPadding":34,"title":"Pos(A₁′) (cm⁻¹)","titlePadding":19}},
  "detail":{"field":"g"}}},
{"data":{"name":"red"},"mark":{"type":"point","shape":"circle","filled":false,"color":"#FF0000","size":250,"strokeWidth":2.5,"opacity":1},
 "encoding":{
  "x":{"field":"x","type":"quantitative","scale":{"domain":[382.042,387],"nice":false,"zero":false},"axis":{"orient":"bottom","values":[382.5,383.5,384.5,385.5,386.5],"tickSize":-9,"labels":false,"domain":false,"title":null}},
  "y":{"field":"y","type":"quantitative","scale":{"domain":[400.526,405.6],"nice":false,"zero":false},"axis":{"orient":"left","values":[401.5,402.5,403.5,404.5,405.5],"tickSize":-9,"labels":false,"domain":false,"title":null}}}},
{"data":{"name":"olive"},"mark":{"type":"point","shape":"square","filled":false,"color":"#808000","size":250,"strokeWidth":1.7,"opacity":1},
 "encoding":{
  "x":{"field":"x","type":"quantitative","scale":{"domain":[382.042,387],"nice":false,"zero":false},"axis":{"orient":"top","values":[382.5,383.5,384.5,385.5,386.5],"tickSize":-9,"labels":false,"domain":false,"title":null}},
  "y":{"field":"y","type":"quantitative","scale":{"domain":[400.526,405.6],"nice":false,"zero":false},"axis":{"orient":"right","values":[401.5,402.5,403.5,404.5,405.5],"tickSize":-9,"labels":false,"domain":false,"title":null}}}},
{"data":{"name":"means"},"mark":{"type":"rule","color":"black","strokeWidth":3.5},
 "encoding":{
  "x":{"field":"xlo","type":"quantitative","scale":{"domain":[382.042,387],"nice":false,"zero":false},"axis":{"orient":"top","values":[383,384,385,386,387],"tickSize":-16,"labels":false,"title":null}},
  "x2":{"field":"xhi"},
  "y":{"field":"y","type":"quantitative","scale":{"domain":[400.526,405.6],"nice":false,"zero":false},"axis":{"orient":"right","values":[401,402,403,404,405],"tickSize":-16,"labels":false,"title":null}}}},
{"data":{"name":"means"},"mark":{"type":"rule","color":"black","strokeWidth":3.5},
 "encoding":{
  "x":{"field":"x","type":"quantitative","scale":{"domain":[382.042,387],"nice":false,"zero":false},"axis":null},
  "y":{"field":"ylo","type":"quantitative","scale":{"domain":[400.526,405.6],"nice":false,"zero":false},"axis":null},
  "y2":{"field":"yhi"}}},
{"data":{"name":"means"},"mark":{"type":"point","shape":"M0,-1L0,1","filled":false,"color":"black","size":400,"strokeWidth":3.5,"strokeCap":"round","opacity":1},
 "encoding":{
  "x":{"field":"xlo","type":"quantitative","scale":{"domain":[382.042,387],"nice":false,"zero":false},"axis":null},
  "y":{"field":"y","type":"quantitative","scale":{"domain":[400.526,405.6],"nice":false,"zero":false},"axis":null}}},
{"data":{"name":"means"},"mark":{"type":"point","shape":"M0,-1L0,1","filled":false,"color":"black","size":400,"strokeWidth":3.5,"strokeCap":"round","opacity":1},
 "encoding":{
  "x":{"field":"xhi","type":"quantitative","scale":{"domain":[382.042,387],"nice":false,"zero":false},"axis":null},
  "y":{"field":"y","type":"quantitative","scale":{"domain":[400.526,405.6],"nice":false,"zero":false},"axis":null}}},
{"data":{"name":"means"},"mark":{"type":"point","shape":"M-1,0L1,0","filled":false,"color":"black","size":400,"strokeWidth":3.5,"strokeCap":"round","opacity":1},
 "encoding":{
  "x":{"field":"x","type":"quantitative","scale":{"domain":[382.042,387],"nice":false,"zero":false},"axis":null},
  "y":{"field":"ylo","type":"quantitative","scale":{"domain":[400.526,405.6],"nice":false,"zero":false},"axis":null}}},
{"data":{"name":"means"},"mark":{"type":"point","shape":"M-1,0L1,0","filled":false,"color":"black","size":400,"strokeWidth":3.5,"strokeCap":"round","opacity":1},
 "encoding":{
  "x":{"field":"x","type":"quantitative","scale":{"domain":[382.042,387],"nice":false,"zero":false},"axis":null},
  "y":{"field":"yhi","type":"quantitative","scale":{"domain":[400.526,405.6],"nice":false,"zero":false},"axis":null}}},
{"data":{"name":"means"},"transform":[{"filter":"datum.g == 'ref'"}],"mark":{"type":"point","shape":"diamond","filled":true,"fill":"white","stroke":"black","size":900,"strokeWidth":3,"opacity":1},
 "encoding":{
  "x":{"field":"x","type":"quantitative","scale":{"domain":[382.042,387],"nice":false,"zero":false},"axis":null},
  "y":{"field":"y","type":"quantitative","scale":{"domain":[400.526,405.6],"nice":false,"zero":false},"axis":null}}},
{"data":{"name":"means"},"transform":[{"filter":"datum.g == 'red'"}],"mark":{"type":"point","shape":"diamond","filled":true,"fill":"#FF0000","stroke":"black","size":784,"strokeWidth":3,"opacity":1},
 "encoding":{
  "x":{"field":"x","type":"quantitative","scale":{"domain":[382.042,387],"nice":false,"zero":false},"axis":null},
  "y":{"field":"y","type":"quantitative","scale":{"domain":[400.526,405.6],"nice":false,"zero":false},"axis":null}}},
{"data":{"name":"means"},"transform":[{"filter":"datum.g == 'olive'"}],"mark":{"type":"point","shape":"diamond","filled":true,"fill":"#808000","stroke":"black","size":361,"strokeWidth":3,"opacity":1},
 "encoding":{
  "x":{"field":"x","type":"quantitative","scale":{"domain":[382.042,387],"nice":false,"zero":false},"axis":null},
  "y":{"field":"y","type":"quantitative","scale":{"domain":[400.526,405.6],"nice":false,"zero":false},"axis":null}}},
{"data":{"name":"arrows"},"mark":{"type":"rule","color":"#0000FF","strokeWidth":3.5,"clip":true},
 "encoding":{
  "x":{"field":"x","type":"quantitative","scale":{"domain":[382.042,387],"nice":false,"zero":false},"axis":null},
  "y":{"field":"y","type":"quantitative","scale":{"domain":[400.526,405.6],"nice":false,"zero":false},"axis":null},
  "x2":{"field":"x2"},"y2":{"field":"y2"}}},
{"data":{"name":"arrows"},"transform":[{"filter":"datum.a == 'eps'"}],"mark":{"type":"point","shape":"M0,0L-2,-0.6L-1.7,0L-2,0.6Z","filled":true,"color":"#0000FF","size":529,"angle":169.1,"opacity":1},
 "encoding":{
  "x":{"field":"x2","type":"quantitative","scale":{"domain":[382.042,387],"nice":false,"zero":false},"axis":null},
  "y":{"field":"y2","type":"quantitative","scale":{"domain":[400.526,405.6],"nice":false,"zero":false},"axis":null}}},
{"data":{"name":"arrows"},"transform":[{"filter":"datum.a == 'n'"}],"mark":{"type":"point","shape":"M0,0L-2,-0.6L-1.7,0L-2,0.6Z","filled":true,"color":"#0000FF","size":529,"angle":98.9,"opacity":1},
 "encoding":{
  "x":{"field":"x2","type":"quantitative","scale":{"domain":[382.042,387],"nice":false,"zero":false},"axis":null},
  "y":{"field":"y2","type":"quantitative","scale":{"domain":[400.526,405.6],"nice":false,"zero":false},"axis":null}}},
{"data":{"name":"labels"},"mark":{"type":"text","font":"Liberation Sans","fontSize":39,"color":"black","align":"center","baseline":"middle"},
 "encoding":{
  "x":{"field":"x","type":"quantitative","scale":{"domain":[382.042,387],"nice":false,"zero":false},"axis":null},
  "y":{"field":"y","type":"quantitative","scale":{"domain":[400.526,405.6],"nice":false,"zero":false},"axis":null},
  "text":{"field":"t"}}},
{"data":{"values":[{"t":"ε (%)","x":382.836,"y":402.183}]},"mark":{"type":"text","font":"Liberation Serif","fontSize":40,"color":"black","align":"center","baseline":"middle"},
 "encoding":{
  "x":{"field":"x","type":"quantitative","scale":{"domain":[382.042,387],"nice":false,"zero":false},"axis":null},
  "y":{"field":"y","type":"quantitative","scale":{"domain":[400.526,405.6],"nice":false,"zero":false},"axis":null},
  "text":{"field":"t"}}},
{"data":{"values":[{"t":"n (x10¹³cm⁻¹)","x":384.961,"y":401.269}]},"mark":{"type":"text","font":"Liberation Sans","fontSize":32,"color":"black","align":"center","baseline":"middle","angle":-10},
 "encoding":{
  "x":{"field":"x","type":"quantitative","scale":{"domain":[382.042,387],"nice":false,"zero":false},"axis":null},
  "y":{"field":"y","type":"quantitative","scale":{"domain":[400.526,405.6],"nice":false,"zero":false},"axis":null},
  "text":{"field":"t"}}},
{"data":{"values":[{"x":384.978,"x2":387.841,"y":405.069,"y2":405.8}]},"mark":{"type":"rect","color":"#77933C"},
 "encoding":{
  "x":{"field":"x","type":"quantitative","scale":{"domain":[382.042,387],"nice":false,"zero":false},"axis":null},
  "x2":{"field":"x2"},
  "y":{"field":"y","type":"quantitative","scale":{"domain":[400.526,405.6],"nice":false,"zero":false},"axis":null},
  "y2":{"field":"y2"}}},
{"data":{"values":[{"t":"More in compression","x":385.435,"y":405.551},{"t":"Negatively charged","x":385.435,"y":405.261}]},"mark":{"type":"text","font":"Liberation Sans","fontSize":42,"fontWeight":"bold","color":"white","align":"left","baseline":"middle"},
 "encoding":{
  "x":{"field":"x","type":"quantitative","scale":{"domain":[382.042,387],"nice":false,"zero":false},"axis":null},
  "y":{"field":"y","type":"quantitative","scale":{"domain":[400.526,405.6],"nice":false,"zero":false},"axis":null},
  "text":{"field":"t"}}},
{"data":{"values":[{"t":"•","x":385.117,"y":405.551},{"t":"•","x":385.117,"y":405.261}]},"mark":{"type":"text","font":"Liberation Sans","fontSize":42,"fontWeight":"bold","color":"white","align":"center","baseline":"middle"},
 "encoding":{
  "x":{"field":"x","type":"quantitative","scale":{"domain":[382.042,387],"nice":false,"zero":false},"axis":null},
  "y":{"field":"y","type":"quantitative","scale":{"domain":[400.526,405.6],"nice":false,"zero":false},"axis":null},
  "text":{"field":"t"}}}
],
"resolve":{"axis":{"x":"independent","y":"independent"}}
}
